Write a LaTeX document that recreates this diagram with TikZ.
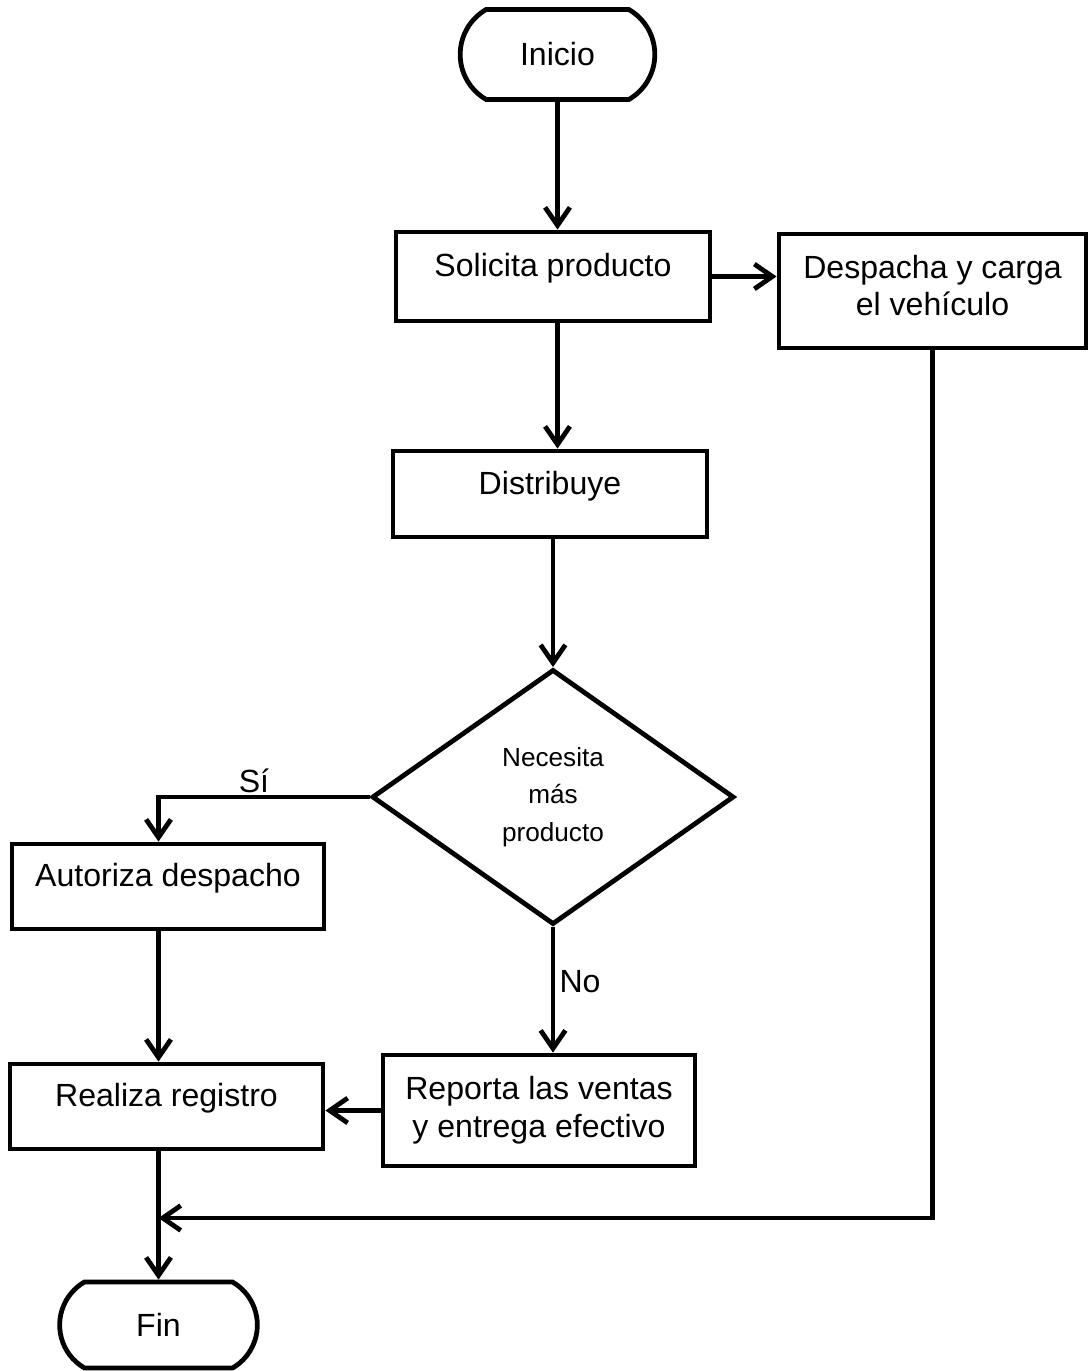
\documentclass[tikz,border=0pt]{standalone}
\usepackage{fontspec}
\setmainfont{Liberation Sans}
\usetikzlibrary{arrows.meta,shapes.geometric,shapes.misc}

\begin{document}
\begin{tikzpicture}[>={Straight Barb[length=0.45cm,width=0.62cm]},x=0.025cm,y=-0.025cm,
  every node/.style={font=\fontsize{22.8}{27}\selectfont},
  caja/.style={draw,line width=3.4pt,rectangle,minimum width=7.85cm,minimum height=2.15cm,align=center},
  unalinea/.style={text depth=0.57cm},
  terminal/.style={draw,line width=3.4pt,rounded rectangle,rounded rectangle arc length=120,minimum width=5.1cm,minimum height=2.25cm},
  decision/.style={draw,line width=3.4pt,diamond,minimum width=9.05cm,minimum height=6.375cm,inner sep=0pt,align=center,font=\fontsize{18.6}{26.6}\selectfont},
  flecha/.style={->,line width=3.4pt}]
\useasboundingbox (0,0) rectangle (1088,1371);
\node[terminal] (inicio) at (557.5,54.5) {Inicio};
\node[caja,unalinea,minimum height=2.225cm] (solicita) at (553,276.5) {Solicita producto};
\node[caja,text depth=0.28cm,minimum width=7.675cm,minimum height=2.85cm] (despacha) at (932.5,291) {Despacha y carga\\el vehículo};
\node[caja,unalinea] (distribuye) at (550,494) {Distribuye};
\node[decision] (necesita) at (553,797) {Necesita\\más\\producto};
\node[caja,unalinea,minimum width=7.8cm,minimum height=2.125cm] (autoriza) at (168,886.5) {Autoriza despacho};
\node[caja,unalinea,minimum width=7.825cm,minimum height=2.125cm] (registro) at (166.5,1106.5) {Realiza registro};
\node[caja,minimum width=7.8cm,minimum height=2.775cm] (reporta) at (539,1110.5) {Reporta las ventas\\y entrega efectivo};
\node[terminal,minimum width=5.175cm,minimum height=2.15cm] (fin) at (158.5,1325) {Fin};
\node (si) at (254,781) {Sí};
\node (no) at (580,982) {No};
\coordinate (retorno) at (158.5,1218);
\draw[flecha] (inicio.south) -- (inicio.south |- solicita.north);
\draw[flecha] (inicio.south |- solicita.south) -- (inicio.south |- distribuye.north);
\draw[flecha] (necesita.north |- distribuye.south) -- (necesita.north);
\draw[flecha] (solicita.east) -- (solicita.east -| despacha.west);
\draw[flecha] (necesita.west) -| (fin.north |- autoriza.north);
\draw[flecha] (fin.north |- autoriza.south) -- (fin.north |- registro.north);
\draw[flecha] (necesita.south) -- (necesita.south |- reporta.north);
\draw[flecha] (reporta.west) -- (reporta.west -| registro.east);
\draw[flecha] (fin.north |- registro.south) -- (fin.north);
\draw[flecha] (despacha.south) |- (retorno);
\end{tikzpicture}
\end{document}
